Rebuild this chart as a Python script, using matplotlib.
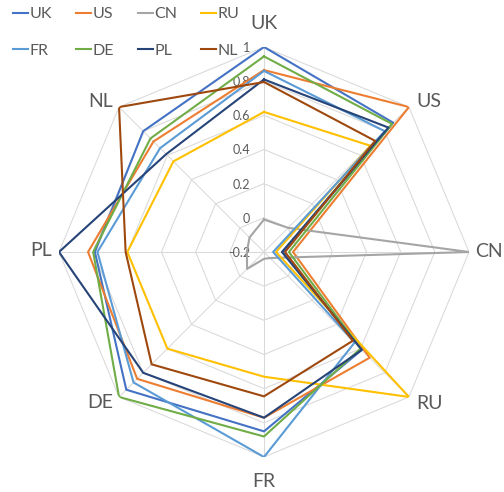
import numpy as np
import matplotlib.pyplot as plt

# axes of the radar, clockwise from the top
categories = ['UK', 'US', 'CN', 'RU', 'FR', 'DE', 'PL', 'NL']
series = ['UK', 'US', 'CN', 'RU', 'FR', 'DE', 'PL', 'NL']

# one row per series, one value per axis (UK, US, CN, RU, FR, DE, PL, NL)
uk = [1.00, 0.87, -0.09, 0.61, 0.85, 0.94, 0.79, 0.80]
us = [0.865, 1.00, -0.03, 0.675, 0.77, 0.85, 0.83, 0.715]
cn = [-0.01, 0.00, 1.00, -0.15, -0.16, -0.06, -0.10, -0.08]
ru = [0.62, 0.68, -0.13, 1.00, 0.53, 0.60, 0.60, 0.55]
fr = [0.86, 0.80, -0.147, 0.55, 1.00, 0.88, 0.775, 0.66]
de = [0.945, 0.86, -0.054, 0.60, 0.88, 1.00, 0.80, 0.74]
pl = [0.81, 0.83, -0.095, 0.61, 0.77, 0.80, 1.00, 0.61]
nl = [0.795, 0.72, -0.077, 0.535, 0.645, 0.73, 0.61, 1.00]
values = [uk, us, cn, ru, fr, de, pl, nl]

ticks = [-0.2, 0, 0.2, 0.4, 0.6, 0.8, 1]

colors = ['#4472C4', '#ED7D31', '#A5A5A5', '#FFC000',
          '#5B9BD5', '#70AD47', '#264478', '#9E480E']

plt.rcParams['font.family'] = ['Lato', 'DejaVu Sans']

W, H = 504, 492
fig = plt.figure(figsize=(W / 100, H / 100), dpi=100)
cx, cy, R = 264, 252, 205
ax = fig.add_axes([(cx - R) / W, (H - cy - R) / H, 2 * R / W, 2 * R / H],
                  projection='polar')
ax.set_theta_zero_location('N')
ax.set_theta_direction(-1)
ax.set_ylim(ticks[0], ticks[-1])
ax.grid(False)
ax.set_xticks([])
ax.set_yticks([])
ax.spines['polar'].set_visible(False)
ax.patch.set_visible(False)

n = len(categories)
angles = np.arange(n) * 2 * np.pi / n
closed = np.append(angles, angles[0])

# octagon gridlines and spokes
grid_col = '#D9D9D9'
for t in ticks[1:]:
    ax.plot(closed, [t] * (n + 1), color=grid_col, lw=0.75, zorder=1)
for a in angles:
    ax.plot([a, a], [ticks[0], ticks[-1]], color=grid_col, lw=0.75, zorder=1)

# radial tick labels
for t in ticks:
    ax.annotate(f'{t:g}', xy=(0, t), xytext=(-14, 0), textcoords='offset pixels',
                ha='right', va='center_baseline', fontsize=9, color='#595959')

# series
lines = []
for name, vals, c in zip(series, values, colors):
    ln, = ax.plot(closed, vals + vals[:1], color=c, lw=1.5, label=name, zorder=3)
    lines.append(ln)

# category labels
label_pos = {
    'UK': ((0, 18), 'center', 'baseline'),
    'US': ((7, 0), 'left', 'baseline'),
    'CN': ((6, -5), 'left', 'baseline'),
    'RU': ((7, -12), 'left', 'baseline'),
    'FR': ((0, -30), 'center', 'baseline'),
    'DE': ((-6, -11), 'right', 'baseline'),
    'PL': ((-7, -4), 'right', 'baseline'),
    'NL': ((-6, 0), 'right', 'baseline'),
}
for a, cat in zip(angles, categories):
    off, ha, va = label_pos[cat]
    ax.annotate(cat, xy=(a, ticks[-1]), xytext=off, textcoords='offset pixels',
                ha=ha, va=va, fontsize=14, color='#595959', annotation_clip=False)

# legend: two rows of four, filled row by row
order = [0, 4, 1, 5, 2, 6, 3, 7]
leg = fig.legend([lines[i] for i in order], [series[i] for i in order],
                 loc='upper left', bbox_to_anchor=(13 / W, 1 - 7 / H), ncol=4,
                 frameon=False, fontsize=11.5, handlelength=0.95,
                 handletextpad=0.08, columnspacing=1.5, labelspacing=1.4,
                 borderpad=0, borderaxespad=0)
for txt in leg.get_texts():
    txt.set_color('#595959')

fig.savefig('out.png', dpi=100)
